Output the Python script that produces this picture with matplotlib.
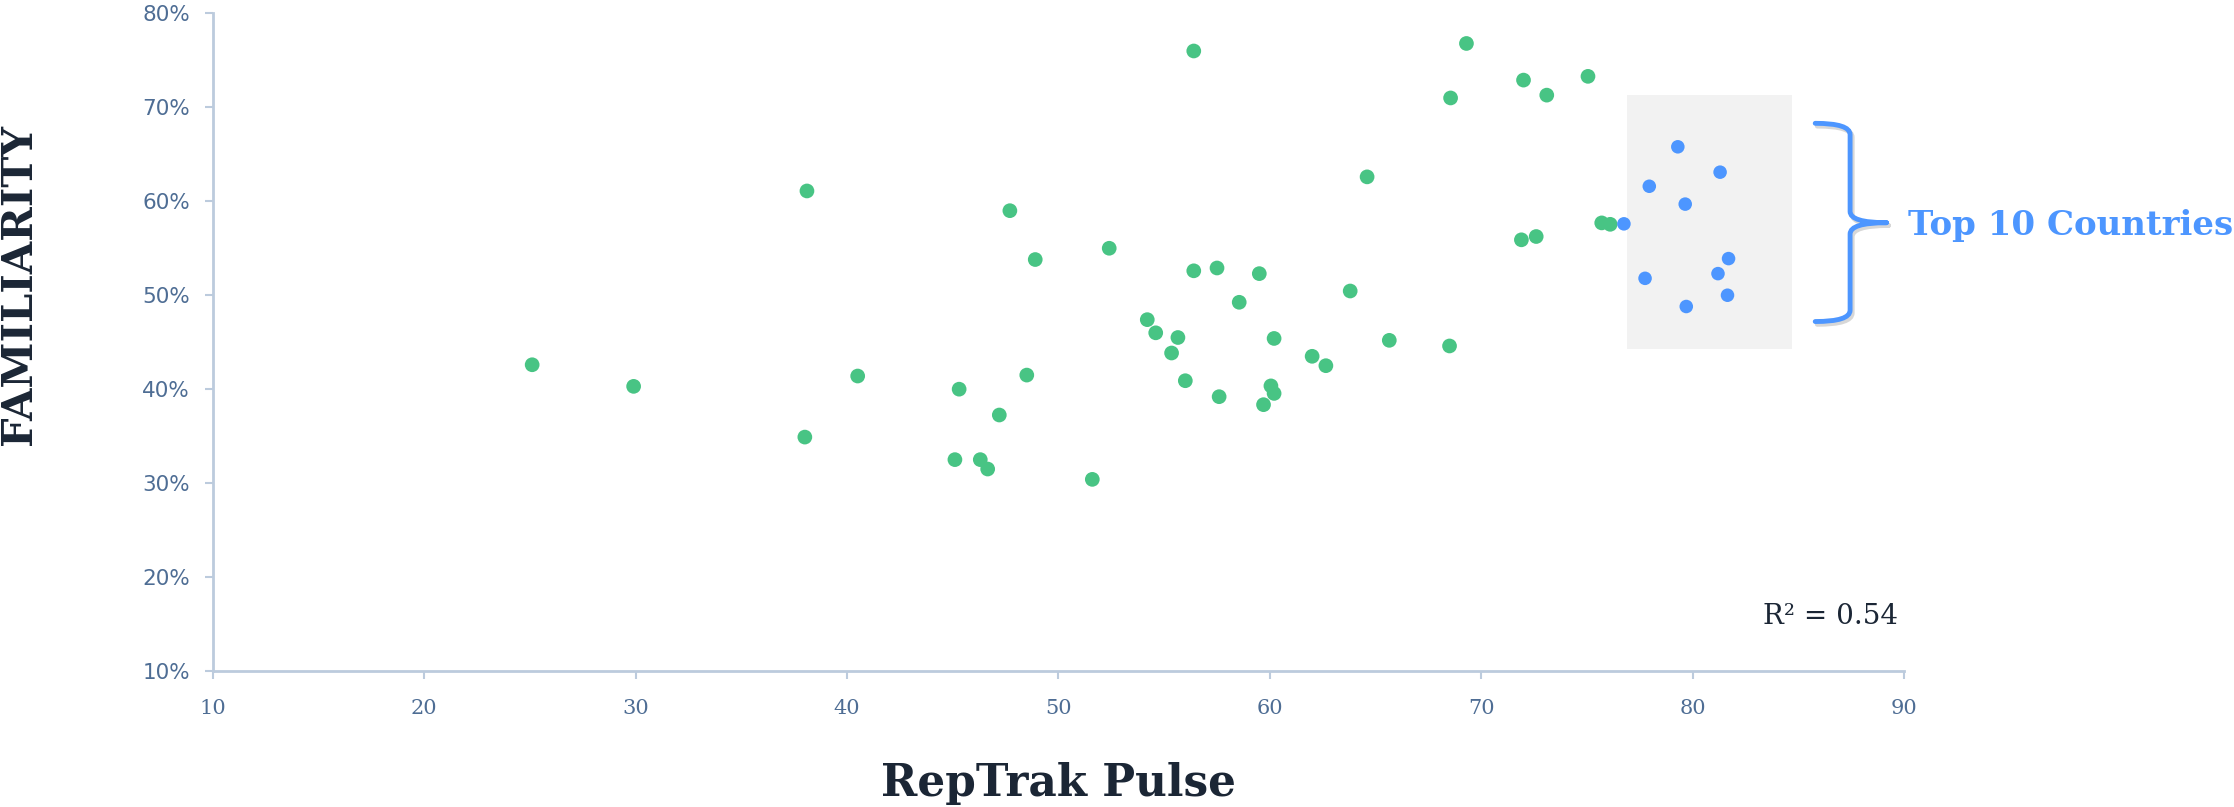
import matplotlib
matplotlib.use('Agg')
import matplotlib.pyplot as plt
from matplotlib.path import Path
from matplotlib.patches import PathPatch, Rectangle
import matplotlib.patheffects as pe
from matplotlib.ticker import FuncFormatter

# RepTrak Pulse (x) vs Familiarity in % (y)
other_pulse = [25.1, 29.9, 38.0, 38.1, 40.5, 45.1, 45.3, 46.3, 46.65, 47.2,
               47.7, 48.5, 48.9, 51.6, 52.4, 54.2, 54.6, 55.35, 55.65, 56.0,
               56.4, 56.4, 57.5, 57.6, 58.55, 59.5, 59.7, 60.05, 60.2, 60.2,
               62.0, 62.65, 63.8, 64.6, 65.65, 68.55, 68.5, 69.3, 71.9, 72.0,
               72.6, 73.1, 75.05, 75.7, 76.1]
other_familiarity = [42.6, 40.3, 34.9, 61.1, 41.4, 32.5, 40.0, 32.5, 31.5, 37.25,
                     59.0, 41.5, 53.8, 30.4, 55.0, 47.4, 46.0, 43.85, 45.5, 40.9,
                     52.6, 76.0, 52.9, 39.2, 49.25, 52.3, 38.35, 40.35, 45.4, 39.55,
                     43.5, 42.5, 50.45, 62.6, 45.2, 71.0, 44.6, 76.8, 55.9, 72.9,
                     56.25, 71.3, 73.3, 57.7, 57.55]

top10_pulse = [79.3, 81.3, 77.95, 79.65, 76.75, 81.7, 77.75, 81.2, 81.65, 79.7]
top10_familiarity = [65.8, 63.1, 61.6, 59.7, 57.6, 53.9, 51.8, 52.3, 50.0, 48.8]

r_squared = 0.54

green = '#48C484'
blue = '#4D96FF'
tick_color = '#4E6D94'
spine_color = '#BCCBDD'
dark = '#1B2635'

fig = plt.figure(figsize=(22.34, 8.07), dpi=100)
ax = fig.add_axes([0.09534, 0.16852, 0.75694, 0.81487])

# shaded area behind the top 10
ax.add_patch(Rectangle((76.9, 44.3), 7.8, 27.0, facecolor='#F2F2F2',
                       edgecolor='none', zorder=0))

ax.scatter(other_pulse, other_familiarity, s=112, color=green,
           edgecolors='none', zorder=3)
ax.scatter(top10_pulse, top10_familiarity, s=95, color=blue,
           edgecolors='none', zorder=3)

ax.set_xlim(10, 90)
ax.set_ylim(10, 80)
ax.set_xticks(range(10, 91, 10))
ax.set_yticks(range(10, 81, 10))
ax.yaxis.set_major_formatter(FuncFormatter(lambda v, p: f'{v:.0f}%'))

for side in ['top', 'right']:
    ax.spines[side].set_visible(False)
for side in ['left', 'bottom']:
    ax.spines[side].set_color(spine_color)
    ax.spines[side].set_linewidth(2)
ax.tick_params(axis='both', colors=spine_color, length=5.5, width=1.5)
ax.tick_params(axis='y', labelcolor=tick_color, labelsize=15.5, pad=11)
ax.tick_params(axis='x', labelcolor=tick_color, labelsize=15, pad=15)
for lab in ax.get_xticklabels():
    lab.set_family('DejaVu Serif')

ax.set_xlabel('RepTrak Pulse', fontsize=31.5, fontweight='bold',
              family='DejaVu Serif', color=dark)
ax.xaxis.set_label_coords(0.5, -0.138)
ax.set_ylabel('FAMILIARITY', fontsize=30, fontweight='bold',
              family='DejaVu Serif', color=dark)
ax.yaxis.set_label_coords(-0.1025, 0.587)

ax.text(89.7, 15.75, f'R² = {r_squared:.2f}', fontsize=20,
        family='DejaVu Serif', color=dark, ha='right', va='center')

# curly brace next to the shaded box
x0, x1, x2 = 85.8, 87.45, 89.17
ytop, ymid, ybot = 68.3, 57.72, 47.2
verts = [(x0, ytop), (x1, ytop), (x1, ytop - 1.2),
         (x1, ymid + 1.2), (x1, ymid), (x2, ymid),
         (x2, ymid), (x1, ymid), (x1, ymid - 1.2),
         (x1, ybot + 1.2), (x1, ybot), (x0, ybot)]
codes = [Path.MOVETO, Path.CURVE3, Path.CURVE3,
         Path.LINETO, Path.CURVE3, Path.CURVE3,
         Path.MOVETO, Path.CURVE3, Path.CURVE3,
         Path.LINETO, Path.CURVE3, Path.CURVE3]
brace = PathPatch(Path(verts, codes), facecolor='none', edgecolor=blue,
                  linewidth=3.5, capstyle='round', clip_on=False, zorder=4)
brace.set_path_effects([pe.SimpleLineShadow(offset=(1.5, -2), alpha=0.25,
                                            shadow_color='#606060'),
                        pe.Normal()])
ax.add_patch(brace)

ax.text(90.2, 57.4, 'Top 10 Countries', fontsize=24.5, fontweight='bold',
        family='DejaVu Serif', color=blue, ha='left', va='center',
        clip_on=False)

fig.savefig('out.png', dpi=100)
